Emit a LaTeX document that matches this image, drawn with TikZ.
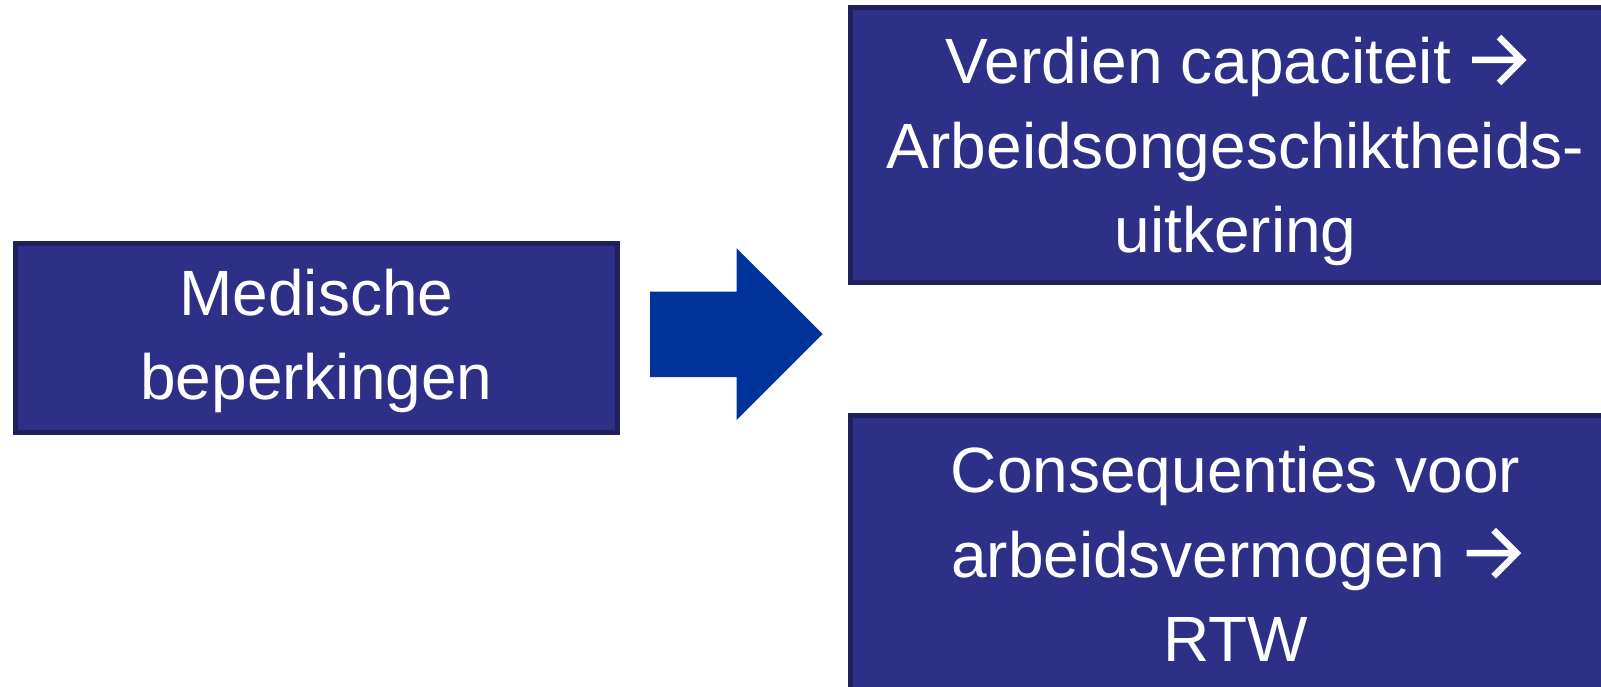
\documentclass[tikz,border=0pt]{standalone}
\usepackage{fontspec}
\setmainfont{Liberation Sans}
\definecolor{boxfill}{HTML}{2E3088}
\definecolor{boxline}{HTML}{20205F}
\definecolor{arrowblue}{HTML}{003399}
\newcommand\wdarrow{\tikz[baseline=0pt,x=1bp,y=1bp]{%
  \draw[white, line width=6.5bp, line cap=butt, line join=miter]
    (0,24) -- (49,24) (27,47) -- (50,24) -- (27,1);}}
\begin{document}
\begin{tikzpicture}[x=1bp,y=-1bp,
  box/.style={draw=boxline, line width=5bp, fill=boxfill, inner sep=0pt, outer sep=0pt},
  boxtext/.style={text=white, align=center, inner sep=0pt,
    font=\fontsize{64bp}{84.5bp}\selectfont}]
\useasboundingbox (0,0) rectangle (1601,687);
\clip (0,0) rectangle (1601,687);
\node[box, minimum width=602bp, minimum height=189bp] (med) at (316.4,338) {};
\node[box, minimum width=770bp, minimum height=275bp] (verd) at (1235.5,145) {};
\node[box, minimum width=770bp, minimum height=278bp] (cons) at (1235.5,554) {};
\node[boxtext] (medT) at ([yshift=-3bp]med.center) {Medische\\beperkingen};
\node[boxtext] (verdT) at ([yshift=-5bp]verd.center)
  {Verdien capaciteit \wdarrow\\Arbeidsongeschiktheids-\\uitkering};
\node[boxtext] (consT) at (cons.center)
  {Consequenties voor\\arbeidsvermogen \wdarrow\\RTW};
\coordinate (a1) at (650,291.7);
\coordinate (a2) at (736.7,291.7);
\coordinate (a3) at (736.7,248.3);
\coordinate (tip) at (822.7,334);
\coordinate (a5) at (736.7,420);
\coordinate (a6) at (736.7,377);
\coordinate (a7) at (650,377);
\fill[arrowblue] (a1) -- (a2) -- (a3) -- (tip) -- (a5) -- (a6) -- (a7) -- cycle;
\end{tikzpicture}
\end{document}
